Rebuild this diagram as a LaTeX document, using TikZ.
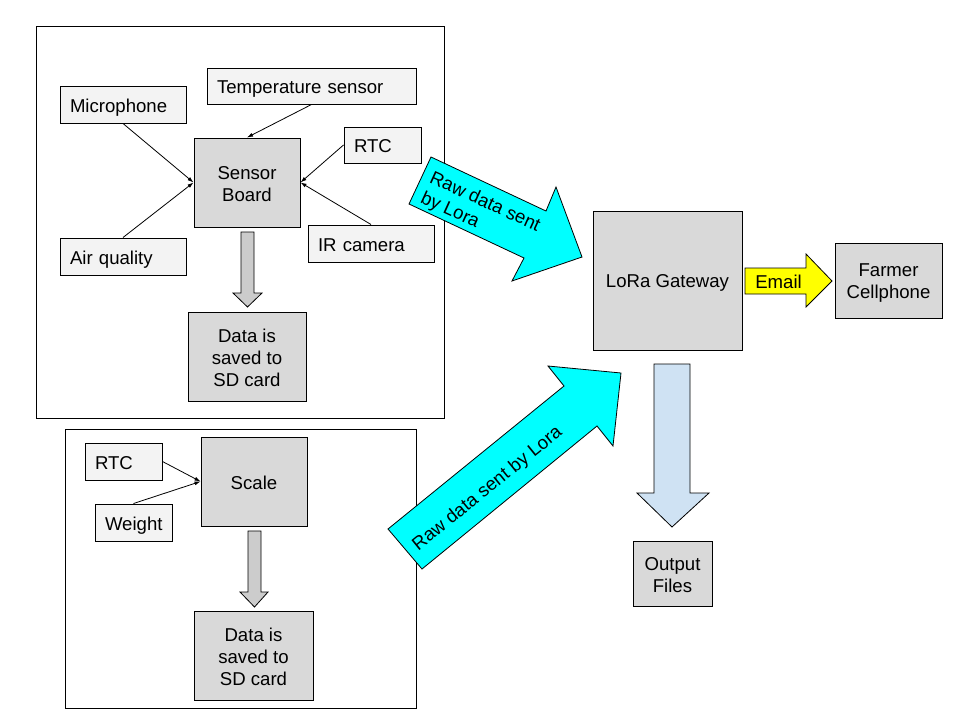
\documentclass[tikz,border=0pt]{standalone}
\usepackage{fontspec}
\setmainfont{Liberation Sans}
\usetikzlibrary{arrows.meta}
\definecolor{lightbox}{HTML}{F3F3F3}
\definecolor{darkbox}{HTML}{D9D9D9}
\definecolor{grayarrow}{HTML}{CCCCCC}
\definecolor{bluearrow}{HTML}{CFE2F3}
\definecolor{cyanarrow}{HTML}{00FFFF}
\definecolor{yellowarrow}{HTML}{FFFF00}
\newcommand{\lnst}{\vrule height 17pt depth 2pt width 0pt}
\begin{document}
\begin{tikzpicture}[x=1pt,y=-1pt,
  every node/.style={font=\fontsize{18.6}{22}\selectfont},
  inbox/.style={draw, line width=1pt, fill=lightbox, inner sep=0pt, inner xsep=10pt,
    align=left, text height=17pt, text depth=2pt, anchor=center},
  darkbx/.style={draw, line width=1pt, fill=darkbox, inner sep=0pt, align=center, anchor=center},
  frame/.style={draw, line width=1pt},
  blockarrow/.style={draw, line width=0.8pt, line join=miter},
  conn/.style={draw, line width=0.8pt, -{Latex[length=6pt,width=4pt]}}
]
\useasboundingbox (0,0) rectangle (960,720);
\fill[white] (0,0) rectangle (960,720);

% outer frames
\draw[frame] (36,26) rectangle (444,418);
\draw[frame] (65,429) rectangle (416,708);

% input boxes (upper)
\node[inbox, text width=106pt, minimum height=37pt] (mic) at (123,104.5) {Microphone};
\node[inbox, text width=189pt, minimum height=36pt] (temp) at (311.5,86) {Temperature sensor};
\node[inbox, text width=57pt, minimum height=36pt] (rtca) at (382.5,145) {RTC};
\node[inbox, text width=106pt, minimum height=37pt] (air) at (123,256.5) {Air quality};
\node[inbox, text width=106pt, minimum height=37pt] (ir) at (371,243.5) {IR camera};

% dark boxes (upper)
\node[darkbx, minimum width=106pt, minimum height=89pt] (sb) at (247,182.5) {\lnst Sensor\\\lnst Board};
\node[darkbx, minimum width=118pt, minimum height=89pt] (sda) at (247,356.5) {\lnst Data is\\\lnst saved to\\\lnst SD card};

% lower frame content
\node[inbox, text width=57pt, minimum height=37pt] (rtcb) at (123.5,461.5) {RTC};
\node[inbox, text width=57pt, minimum height=37pt] (wt) at (133.5,522.5) {Weight};
\node[darkbx, minimum width=106pt, minimum height=89pt] (scale) at (254,481.5) {\lnst Scale};
\node[darkbx, minimum width=119pt, minimum height=89pt] (sdb) at (253.5,655.5) {\lnst Data is\\\lnst saved to\\\lnst SD card};

% right side
\node[darkbx, minimum width=149pt, minimum height=139pt] (gw) at (667.5,280.5) {\lnst LoRa Gateway};
\node[darkbx, minimum width=107pt, minimum height=75pt] (farmer) at (888.5,280.5) {\lnst Farmer\\\lnst Cellphone};
\node[darkbx, minimum width=79pt, minimum height=65pt] (out) at (672.5,573.5) {\lnst Output\\\lnst Files};

% connectors
\draw[conn] (mic.south) -- (sb.west);
\draw[conn] (air.north) -- (sb.west);
\draw[conn] (temp.south) -- (sb.north);
\draw[conn] (rtca.west) -- (sb.east);
\draw[conn] (ir.north) -- (sb.east);
\draw[conn] (rtcb.east) -- (scale.west);
\draw[conn] (wt.north) -- (scale.west);

% gray block arrows
\draw[blockarrow, fill=grayarrow] (241,232) -- (254,232) -- (254,293) -- (262,293) -- (247.5,307) -- (233,293) -- (241,293) -- cycle;
\draw[blockarrow, fill=grayarrow] (248,531) -- (261,531) -- (261,592) -- (268,592) -- (254.5,607) -- (240,592) -- (248,592) -- cycle;

% blue arrow to output files
\draw[blockarrow, fill=bluearrow] (654,364) -- (690,364) -- (690,493) -- (709,493) -- (672,527) -- (637,493) -- (654,493) -- cycle;

% email arrow
\draw[blockarrow, fill=yellowarrow] (745,268) -- (806,268) -- (806,254) -- (832,281) -- (806,307) -- (806,294) -- (745,294) -- cycle;
\node[inner sep=0pt, text height=17pt, text depth=2pt] (email) at (778.5,281) {Email};

% cyan arrows
\draw[blockarrow, fill=cyanarrow] (431,157) -- (546,211) -- (556,187) -- (582,257) -- (512,281) -- (524,258) -- (409,204) -- cycle;
\node[rotate=-24.5, align=left, inner sep=0pt] (lora1) at (481,211) {\lnst Raw data sent\\\lnst by Lora};
\draw[blockarrow, fill=cyanarrow] (388,529) -- (564,386) -- (548,366) -- (621,373) -- (613,446) -- (597,426) -- (422,569) -- cycle;
\node[rotate=39, inner sep=0pt, text height=17pt, text depth=2pt] (lora2) at (486,487) {Raw data sent by Lora};
\end{tikzpicture}
\end{document}
